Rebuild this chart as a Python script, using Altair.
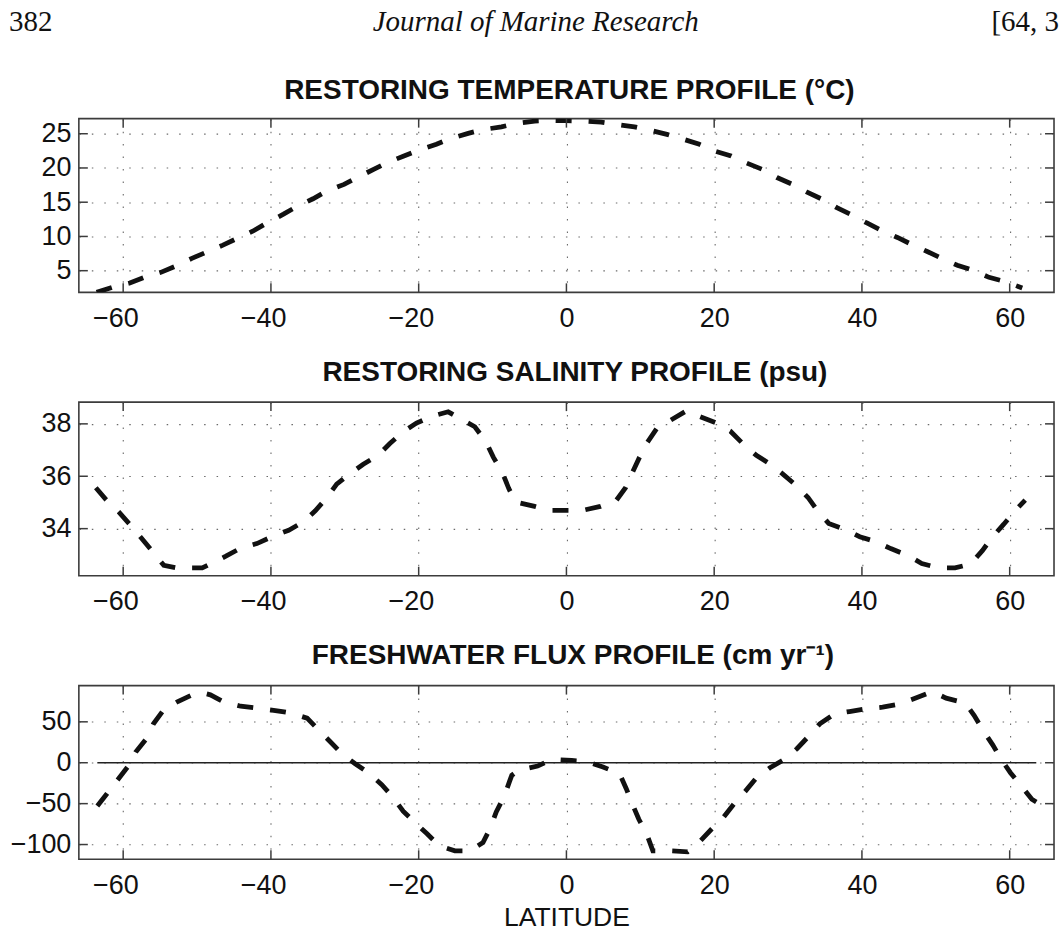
import altair as alt
import pandas as pd

# ---------------- data ----------------
TEMP_LAT = [-63.6, -61.5, -59.1, -57.1, -54.9, -53.0, -50.7, -48.8, -46.5, -44.6,
            -42.4, -40.5, -38.3, -36.5, -34.3, -32.4, -30.1, -28.3, -26.1, -24.2,
            -22.0, -20.0, -17.6, -15.7, -13.3, -11.3, -8.8, -6.8, -4.3, -2.2,
            0.0, 2.3, 4.7, 6.8, 9.2, 11.4, 13.6, 15.8, 18.0, 20.0,
            22.3, 24.2, 26.5, 28.5, 30.6, 32.5, 34.7, 36.6, 38.7, 40.6,
            42.8, 44.8, 46.9, 48.9, 51.0, 52.9, 55.2, 57.2, 59.7, 61.7]
TEMP_VAL = [1.84, 2.57, 3.2, 4.03, 4.76, 5.63, 6.8, 7.67, 8.74, 9.7,
            10.8, 12.0, 13.25, 14.37, 15.5, 16.65, 17.6, 18.6, 19.8, 20.8,
            21.75, 22.6, 23.45, 24.3, 25.05, 25.6, 26.0, 26.5, 26.85, 26.95,
            26.9, 26.85, 26.7, 26.36, 26.0, 25.5, 24.9, 24.2, 23.45, 22.5,
            21.75, 20.8, 19.8, 18.6, 17.6, 16.5, 15.4, 14.2, 13.1, 12.0,
            10.8, 9.85, 8.74, 7.77, 6.7, 5.8, 5.0, 4.03, 3.3, 2.48]

SAL_LAT = [-63.7, -62.3, -60.6, -59.0, -57.6, -56.1, -54.5, -52.7, -49.3, -48.2,
           -46.1, -44.0, -41.9, -39.7, -37.6, -35.6, -34.0, -32.4, -31.1, -29.3,
           -27.5, -25.5, -23.9, -22.1, -20.3, -18.2, -16.0, -14.2, -12.4, -10.9,
           -9.9, -8.7, -7.8, -6.9, -4.3, -2.4, 0.0, 2.25, 4.6, 6.7,
           8.0, 8.9, 9.9, 10.9, 12.2, 14.05, 16.2, 18.2, 20.3, 22.2,
           23.9, 25.7, 27.6, 29.3, 31.1, 32.7, 34.0, 35.5, 37.7, 39.7,
           41.9, 43.9, 46.2, 48.1, 50.4, 52.6, 54.7, 56.3, 57.6, 59.2,
           60.6, 62.1]
SAL_VAL = [35.56, 35.10, 34.64, 34.13, 33.66, 33.15, 32.6, 32.5, 32.5, 32.65,
           32.95, 33.27, 33.43, 33.71, 33.94, 34.26, 34.68, 35.19, 35.7, 36.1,
           36.46, 36.8, 37.25, 37.7, 38.03, 38.29, 38.46, 38.17, 37.89, 37.32,
           36.73, 36.16, 35.53, 35.02, 34.85, 34.70, 34.70, 34.70, 34.85, 35.06,
           35.56, 36.12, 36.73, 37.27, 37.81, 38.13, 38.49, 38.26, 38.03, 37.72,
           37.24, 36.8, 36.46, 36.08, 35.65, 35.19, 34.68, 34.2, 33.97, 33.69,
           33.5, 33.24, 32.98, 32.67, 32.5, 32.5, 32.65, 33.16, 33.66, 34.17,
           34.64, 35.09]

FLUX_LAT = [-63.5, -62.2, -60.8, -59.3, -58.3, -56.8, -55.9, -54.5, -52.6, -50.7,
            -49.5, -48.2, -46.3, -44.1, -41.9, -39.4, -37.4, -35.1, -33.6, -32.0,
            -30.4, -28.6, -26.8, -25.0, -23.5, -22.1, -20.5, -18.9, -17.2, -15.1,
            -13.1, -11.3, -10.3, -9.5, -8.4, -7.7, -7.4, -6.5, -3.9, -2.0,
            0.7, 2.7, 4.95, 7.2, 8.1, 8.9, 9.8, 10.9, 11.7, 13.96,
            16.4, 18.0, 19.8, 21.3, 22.7, 24.2, 25.7, 27.5, 29.5, 31.2,
            32.8, 34.3, 36.3, 38.3, 40.6, 42.8, 45.1, 47.2, 49.5, 51.4,
            53.96, 55.2, 56.4, 57.7, 58.8, 60.1, 61.5, 63.0, 63.6]
FLUX_VAL = [-52.8, -37.8, -21.5, -4.1, 13.0, 30.1, 47.6, 65.0, 74.8, 82.9,
            86.0, 83.0, 74.0, 69.1, 66.7, 63.8, 61.0, 54.5, 40.6, 26.0,
            11.0, -1.2, -12.2, -26.8, -41.9, -59.3, -73.2, -86.6, -101.6, -107.7,
            -107.7, -97.6, -79.7, -60.2, -40.7, -22.8, -15.4, -9.3, -4.1, 4.1,
            2.8, 1.6, -5.3, -13.4, -31.7, -50.0, -69.1, -87.8, -107.7, -107.7,
            -108.9, -96.7, -79.7, -66.3, -50.0, -35.0, -18.7, -6.5, 4.1, 17.1,
            32.5, 47.6, 59.8, 62.6, 65.9, 67.9, 71.9, 78.9, 87.0, 78.9,
            73.2, 57.7, 39.4, 21.9, 4.9, -12.2, -27.6, -44.7, -48.0]

ZERO_LINE_LAT = [-63.5, 63.6]
ZERO_LINE_VAL = [0]

X_TICKS = [-60, -40, -20, 0, 20, 40, 60]
TEMP_TICKS = [5, 10, 15, 20, 25]
SAL_TICKS = [34, 36, 38]
FLUX_TICKS = [-100, -50, 0, 50]

X_DOMAIN = [-66, 66]
TEMP_DOMAIN = [1.84, 27.2]
SAL_DOMAIN = [32.2, 38.83]
FLUX_DOMAIN = [-118.0, 94.3]

TITLES = ["RESTORING TEMPERATURE PROFILE (\u00b0C)",
          "RESTORING SALINITY PROFILE (psu)",
          "FRESHWATER FLUX PROFILE (cm yr\u207b\u00b9)"]
X_TITLE = "LATITUDE"
HEADER_LEFT = "382"
HEADER_CENTER = "Journal of Marine Research"
HEADER_RIGHT = "[64, 3"

# ---------------- styling / layout ----------------
W, H = 977, 174
GAP = 110
LEFT, TOP = 78, 119.3
SHIFT = 2.5          # measured extra offset of the rendered page
PAGE_W, PAGE_H = 1061, 934
FONT = "Liberation Sans"
SERIF = "Liberation Serif"
INK = "#111111"
FRAME = "#3c3c3c"
TICK_LEN = 9
LABEL_SIZE = 27


def anchor(x, y):
    """Invisible zero-length rule fixing the page extent for autosize 'pad'."""
    return alt.Chart(pd.DataFrame({"k": [0]})).mark_rule(
        color="white", opacity=0, strokeWidth=0.01
    ).encode(x=alt.value(x), x2=alt.value(x), y=alt.value(y), y2=alt.value(y))


NEG = "datum.value < 0"


def panel(lat, val, yticks, ydomain, title, title_x, title_y, x_title=False,
          zero_line=False, header=False, bottom_anchor=False):
    xs = alt.Scale(domain=X_DOMAIN, nice=False, zero=False)
    ys = alt.Scale(domain=ydomain, nice=False, zero=False)
    xaxis_kw = dict(values=X_TICKS, ticks=False, domain=False, grid=True,
                    gridDash=[1.5, 11], gridColor="#6a6a6a", gridWidth=1.1,
                    labelFont=FONT, labelFontSize=LABEL_SIZE, labelColor=INK,
                    labelPadding=13, labelFlush=False,
                    labelAlign={"condition": {"test": NEG, "value": "right"},
                                "value": "center"},
                    labelOffset={"condition": {"test": NEG, "value": 15},
                                 "value": 0})
    if x_title:
        xaxis_kw.update(title=X_TITLE, titleFont=FONT, titleFontSize=26.5,
                        titleFontWeight="normal", titleColor=INK, titlePadding=6)
    xaxis = alt.Axis(**xaxis_kw)
    yaxis = alt.Axis(values=yticks, ticks=False, domain=False, grid=True,
                     gridDash=[1.5, 11], gridColor="#6a6a6a", gridWidth=1.1,
                     labelFont=FONT, labelFontSize=LABEL_SIZE, labelColor=INK,
                     labelPadding=8, title=None)

    df = pd.DataFrame({"lat": lat, "val": val})
    if x_title:
        xenc = alt.X("lat:Q", scale=xs, axis=xaxis)
    else:
        xenc = alt.X("lat:Q", scale=xs, axis=xaxis, title=None)

    line = alt.Chart(df).mark_line(
        color=INK, strokeWidth=4.8, strokeDash=[16, 17], strokeCap="butt",
        clip=True
    ).encode(x=xenc, y=alt.Y("val:Q", scale=ys, axis=yaxis, title=None))

    xt = pd.DataFrame({"t": X_TICKS})
    yt = pd.DataFrame({"t": yticks})
    rule_style = dict(color=FRAME, strokeWidth=1.5)
    xb = alt.Chart(xt).mark_rule(**rule_style).encode(
        x=alt.X("t:Q", scale=xs), y=alt.value(H), y2=alt.value(H - TICK_LEN))
    xtp = alt.Chart(xt).mark_rule(**rule_style).encode(
        x=alt.X("t:Q", scale=xs), y=alt.value(0), y2=alt.value(TICK_LEN))
    yl = alt.Chart(yt).mark_rule(**rule_style).encode(
        y=alt.Y("t:Q", scale=ys), x=alt.value(0), x2=alt.value(TICK_LEN))
    yr = alt.Chart(yt).mark_rule(**rule_style).encode(
        y=alt.Y("t:Q", scale=ys), x=alt.value(W), x2=alt.value(W - TICK_LEN))

    ttl = alt.Chart(pd.DataFrame({"t": [title]})).mark_text(
        font=FONT, fontSize=28, fontWeight="bold", align="center",
        baseline="alphabetic", color=INK
    ).encode(text="t:N", x=alt.value(title_x), y=alt.value(title_y))

    layers = []
    if zero_line:
        zdf = pd.DataFrame({"a": [ZERO_LINE_LAT[0]], "b": [ZERO_LINE_LAT[1]],
                            "z": ZERO_LINE_VAL})
        layers.append(alt.Chart(zdf).mark_rule(color="#222222", strokeWidth=1.6).encode(
            x=alt.X("a:Q", scale=xs), x2="b:Q", y=alt.Y("z:Q", scale=ys)))
    layers += [line, xb, xtp, yl, yr, ttl]
    if header:
        hl = alt.Chart(pd.DataFrame({"t": [HEADER_LEFT]})).mark_text(
            font=SERIF, fontSize=29, align="left", baseline="alphabetic", color=INK
        ).encode(text="t:N", x=alt.value(8 - LEFT), y=alt.value(31.7 - TOP))
        hc = alt.Chart(pd.DataFrame({"t": [HEADER_CENTER]})).mark_text(
            font=SERIF, fontSize=29, fontStyle="italic", align="center",
            baseline="alphabetic", color=INK
        ).encode(text="t:N", x=alt.value(535.7 - LEFT), y=alt.value(31.7 - TOP))
        hr = alt.Chart(pd.DataFrame({"t": [HEADER_RIGHT]})).mark_text(
            font=SERIF, fontSize=29, align="right", baseline="alphabetic", color=INK
        ).encode(text="t:N", x=alt.value(PAGE_W - LEFT - 1), y=alt.value(31.7 - TOP))
        layers += [hl, hc, hr, anchor(-LEFT, -(TOP - SHIFT))]
    if bottom_anchor:
        bottom = PAGE_H - SHIFT - TOP - 2 * (H + GAP)
        layers.append(anchor(PAGE_W - LEFT, bottom))
    return alt.layer(*layers).properties(width=W, height=H)


p1 = panel(TEMP_LAT, TEMP_VAL, TEMP_TICKS, TEMP_DOMAIN, TITLES[0], 491.5, -19.5,
           header=True)
p2 = panel(SAL_LAT, SAL_VAL, SAL_TICKS, SAL_DOMAIN, TITLES[1], 497, -21.5)
p3 = panel(FLUX_LAT, FLUX_VAL, FLUX_TICKS, FLUX_DOMAIN, TITLES[2], 495, -21.5,
           x_title=True, zero_line=True, bottom_anchor=True)

chart = alt.vconcat(p1, p2, p3, spacing=GAP, bounds="flush").properties(
    padding=0,
    background="white",
).configure_view(stroke=FRAME, strokeWidth=1.6)

chart.save("out.html", embed_options={"renderer": "svg", "actions": False})
